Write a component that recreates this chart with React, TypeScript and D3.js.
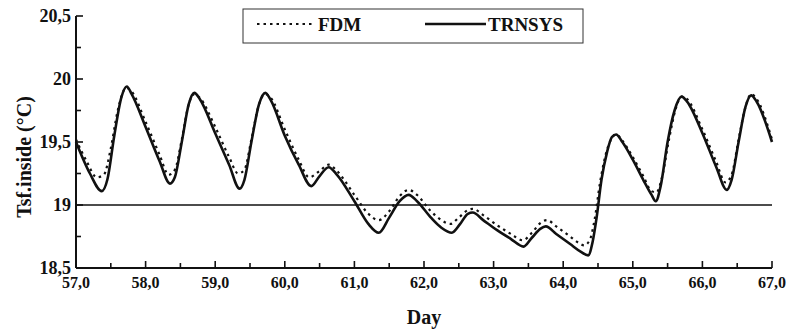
import React from "react";
import * as d3 from "d3";

const trnsysDays = [57.0,57.2,57.37,57.45,57.55,57.65,57.73,57.8,58.0,58.2,58.35,58.42,58.52,58.62,58.7,58.78,59.0,59.2,59.35,59.42,59.52,59.63,59.72,59.8,60.0,60.2,60.38,60.5,60.63,60.75,61.0,61.2,61.35,61.5,61.65,61.78,61.9,62.1,62.25,62.4,62.52,62.63,62.7,62.85,63.05,63.25,63.43,63.55,63.67,63.75,63.9,64.1,64.25,64.36,64.42,64.48,64.55,64.63,64.7,64.76,64.85,65.0,65.15,65.27,65.33,65.4,65.5,65.6,65.7,65.78,66.0,66.2,66.35,66.42,66.52,66.62,66.7,66.78,67.0];
const trnsysValues = [19.5,19.25,19.11,19.2,19.55,19.85,19.94,19.88,19.62,19.35,19.17,19.22,19.5,19.8,19.89,19.84,19.57,19.32,19.13,19.2,19.5,19.8,19.89,19.83,19.55,19.32,19.15,19.23,19.3,19.24,19.03,18.85,18.78,18.9,19.03,19.08,19.03,18.9,18.82,18.78,18.85,18.93,18.94,18.88,18.8,18.73,18.67,18.74,18.81,18.83,18.77,18.69,18.63,18.6,18.7,18.9,19.2,19.42,19.54,19.56,19.5,19.36,19.2,19.08,19.03,19.15,19.5,19.75,19.86,19.82,19.57,19.3,19.12,19.2,19.5,19.78,19.87,19.82,19.5];

const fdmDays = [57.0,57.15,57.3,57.4,57.5,57.6,57.72,57.8,58.0,58.2,58.33,58.42,58.52,58.62,58.7,58.78,59.0,59.2,59.33,59.42,59.52,59.63,59.72,59.8,60.0,60.2,60.35,60.5,60.63,60.75,61.0,61.2,61.35,61.5,61.65,61.78,61.9,62.1,62.25,62.38,62.5,62.63,62.7,62.85,63.05,63.25,63.42,63.55,63.68,63.77,63.9,64.1,64.22,64.3,64.38,64.45,64.53,64.62,64.7,64.76,64.85,65.0,65.15,65.27,65.34,65.42,65.52,65.62,65.7,65.78,66.0,66.2,66.33,66.42,66.52,66.62,66.7,66.78,67.0];
const fdmValues = [19.52,19.35,19.22,19.24,19.45,19.75,19.93,19.9,19.66,19.4,19.24,19.28,19.52,19.8,19.88,19.85,19.62,19.38,19.25,19.28,19.52,19.8,19.88,19.85,19.6,19.36,19.22,19.27,19.32,19.27,19.08,18.93,18.88,18.95,19.07,19.12,19.08,18.95,18.88,18.85,18.9,18.96,18.97,18.92,18.84,18.77,18.72,18.78,18.86,18.88,18.83,18.75,18.7,18.68,18.72,18.88,19.18,19.42,19.53,19.56,19.51,19.38,19.23,19.11,19.1,19.22,19.52,19.77,19.86,19.84,19.6,19.34,19.18,19.24,19.52,19.78,19.88,19.84,19.52];

const xTickValues = [57, 58, 59, 60, 61, 62, 63, 64, 65, 66, 67];
const xTickLabels = ["57,0", "58,0", "59,0", "60,0", "61,0", "62,0", "63,0", "64,0", "65,0", "66,0", "67,0"];
const yTickValues = [18.5, 19, 19.5, 20, 20.5];
const yTickLabels = ["18,5", "19", "19,5", "20", "20,5"];
const referenceLevel = 19;
const seriesNames = ["FDM", "TRNSYS"];

const W = 791;
const H = 331;
const left = 76;
const right = 772;
const top = 16;
const bottom = 268;
const font = "'Liberation Serif', 'Times New Roman', serif";

export default function App() {
  const x = d3.scaleLinear().domain([57, 67]).range([left, right]);
  const y = d3.scaleLinear().domain([18.5, 20.5]).range([bottom, top]);

  const line = d3
    .line<[number, number]>()
    .x((d) => x(d[0]))
    .y((d) => y(d[1]))
    .curve(d3.curveMonotoneX);

  const trnsys = trnsysDays.map((d, i) => [d, trnsysValues[i]] as [number, number]);
  const fdm = fdmDays.map((d, i) => [d, fdmValues[i]] as [number, number]);

  const xMinor = d3.range(57, 67.01, 0.5);
  const yMinor = d3.range(18.5, 20.51, 0.25);

  return (
    <svg
      width={W}
      height={H}
      style={{ position: "absolute", left: 0, top: 0, background: "#fff" }}
      fontFamily={font}
    >
      <line x1={left} x2={right} y1={y(referenceLevel)} y2={y(referenceLevel)} stroke="#111" strokeWidth={1.5} />

      <path d={line(fdm) || ""} fill="none" stroke="#111" strokeWidth={2.2} strokeDasharray="2.5,4" />
      <path d={line(trnsys) || ""} fill="none" stroke="#111" strokeWidth={2.6} strokeLinejoin="round" />

      <line x1={left} x2={left} y1={top} y2={bottom} stroke="#111" strokeWidth={2} />
      <line x1={left} x2={right} y1={bottom} y2={bottom} stroke="#111" strokeWidth={2} />
      {yMinor.map((v, i) => (
        <line
          key={"yt" + i}
          x1={left}
          x2={left + (Math.abs(v * 2 - Math.round(v * 2)) < 1e-6 ? 7 : 5)}
          y1={y(v)}
          y2={y(v)}
          stroke="#111"
          strokeWidth={1.6}
        />
      ))}
      {xMinor.map((v, i) => (
        <line
          key={"xt" + i}
          x1={x(v)}
          x2={x(v)}
          y1={bottom}
          y2={bottom - (Math.abs(v - Math.round(v)) < 1e-6 ? 7 : 5)}
          stroke="#111"
          strokeWidth={1.6}
        />
      ))}
      {yTickValues.map((v, i) => (
        <text
          key={"yl" + i}
          x={71}
          y={y(v)}
          dy="0.33em"
          textAnchor="end"
          fontSize={18}
          fontWeight="bold"
          fill="#111"
        >
          {yTickLabels[i]}
        </text>
      ))}
      {xTickValues.map((v, i) => (
        <text
          key={"xl" + i}
          x={x(v)}
          y={288}
          textAnchor="middle"
          fontSize={16}
          fontWeight="bold"
          fill="#111"
        >
          {xTickLabels[i]}
        </text>
      ))}
      <text x={(left + right) / 2} y={324} textAnchor="middle" fontSize={20} fontWeight="bold" fill="#111">
        Day
      </text>
      <text
        transform={`translate(31, 157) rotate(-90)`}
        textAnchor="middle"
        fontSize={20}
        fontWeight="bold"
        fill="#111"
      >
        Tsf.inside (°C)
      </text>

      <rect x={243} y={9} width={340} height={34} fill="#fff" stroke="#333" strokeWidth={1} />
      <line x1={257} x2={314} y1={24} y2={24} stroke="#111" strokeWidth={2.2} strokeDasharray="2.5,4" />
      <text x={318} y={31} fontSize={19} fontWeight="bold" fill="#111">
        {seriesNames[0]}
      </text>
      <line x1={425} x2={486} y1={24} y2={24} stroke="#111" strokeWidth={2.6} />
      <text x={488} y={31} fontSize={19} fontWeight="bold" fill="#111">
        {seriesNames[1]}
      </text>
    </svg>
  );
}
